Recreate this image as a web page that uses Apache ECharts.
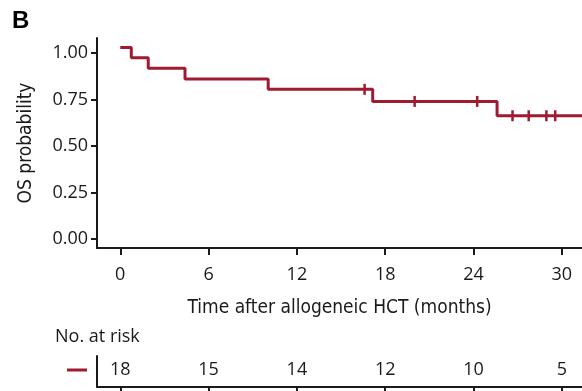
<!DOCTYPE html>
<html>
<head>
<meta charset="utf-8">
<script src="https://cdn.jsdelivr.net/npm/echarts@6/dist/echarts.min.js"></script>
<style>html,body{margin:0;padding:0;background:#fff}#c{width:582px;height:391px}</style>
</head>
<body>
<div id="c"></div>
<script>
// Kaplan-Meier steps (time in months, survival as drawn)
const stepTimes = [0, 0.75, 1.9, 4.4, 10.05, 17.15, 25.6, 31.4];
const stepValues = [1.03, 0.975, 0.918, 0.86, 0.805, 0.740, 0.663, 0.663];
// censor marks
const censorTimes = [16.6, 20.0, 24.25, 26.65, 27.75, 28.95, 29.55];
const censorValues = [0.805, 0.740, 0.740, 0.663, 0.663, 0.663, 0.663];
// axis ticks
const xTicks = [0, 6, 12, 18, 24, 30];
const yTicks = [0, 0.25, 0.5, 0.75, 1];
const yTickLabels = ['0.00', '0.25', '0.50', '0.75', '1.00'];
// number at risk
const riskTimes = [0, 6, 12, 18, 24, 30];
const riskCounts = [18, 15, 14, 12, 10, 5];

const RED = '#9e1b31';
const INK = '#1a1a1a';
const FONT = '"Open Sans", "Noto Sans", sans-serif';
const COND = '"Liberation Sans Narrow", "DejaVu Sans Condensed", sans-serif';
const XMIN = -1.58, XMAX = 31.37;

const chart = echarts.init(document.getElementById('c'), null, {renderer: 'canvas'});
chart.setOption({
  animation: false,
  backgroundColor: '#fff',
  grid: [
    {left: 97, width: 485, top: 38, height: 210},
    {left: 97, width: 485, top: 356, height: 31}
  ],
  xAxis: [
    {
      gridIndex: 0, type: 'value', min: XMIN, max: XMAX,
      axisLine: {show: true, onZero: false, lineStyle: {color: INK, width: 2}},
      axisTick: {show: true, customValues: xTicks, length: 7, lineStyle: {color: INK, width: 2}},
      axisLabel: {customValues: xTicks, margin: 18, fontSize: 18, color: INK, fontFamily: FONT},
      splitLine: {show: false},
      name: 'Time after allogeneic HCT (months)', nameLocation: 'middle', nameGap: 51,
      nameTextStyle: {fontSize: 19, color: INK, fontFamily: COND}
    },
    {
      gridIndex: 1, type: 'value', min: XMIN, max: XMAX,
      axisLine: {show: true, onZero: false, lineStyle: {color: INK, width: 2}},
      axisTick: {show: true, customValues: xTicks, length: 6, lineStyle: {color: INK, width: 2}},
      axisLabel: {show: false},
      splitLine: {show: false}
    }
  ],
  yAxis: [
    {
      gridIndex: 0, type: 'value', min: -0.048, max: 1.081,
      axisLine: {show: true, onZero: false, lineStyle: {color: INK, width: 2}},
      axisTick: {show: true, customValues: yTicks, length: 6, lineStyle: {color: INK, width: 2}},
      axisLabel: {customValues: yTicks, margin: 9, fontSize: 18, color: INK, fontFamily: FONT,
        formatter: v => yTickLabels[yTicks.indexOf(v)] ?? ''},
      splitLine: {show: false},
      name: 'OS probability', nameLocation: 'middle', nameGap: 61,
      nameTextStyle: {fontSize: 19, color: INK, fontFamily: COND}
    },
    {
      gridIndex: 1, type: 'value', min: 0, max: 1,
      axisLine: {show: true, onZero: false, lineStyle: {color: INK, width: 2}},
      axisTick: {show: false}, axisLabel: {show: false}, splitLine: {show: false}
    }
  ],
  series: [
    {
      type: 'line', xAxisIndex: 0, yAxisIndex: 0, step: 'end', symbol: 'none',
      lineStyle: {color: RED, width: 3},
      data: stepTimes.map((t, i) => [t, stepValues[i]])
    },
    {
      type: 'scatter', xAxisIndex: 0, yAxisIndex: 0, symbol: 'rect', symbolSize: [2.5, 11],
      itemStyle: {color: RED, opacity: 1},
      data: censorTimes.map((t, i) => [t, censorValues[i]])
    },
    {
      type: 'scatter', xAxisIndex: 1, yAxisIndex: 1, symbol: 'circle', symbolSize: 1,
      itemStyle: {color: 'rgba(0,0,0,0)', opacity: 1},
      label: {show: true, position: 'inside', fontSize: 18, color: INK, fontFamily: FONT,
        formatter: p => String(p.value[2])},
      data: riskTimes.map((t, i) => [t, 0.55, riskCounts[i]])
    }
  ],
  graphic: [
    {type: 'text', left: 12, top: 9, style: {text: 'B', font: 'bold 24px "Liberation Sans", Arial, sans-serif', fill: '#000'}},
    {type: 'text', left: 55, top: 328, style: {text: 'No. at risk', font: '18px ' + FONT, fill: INK}},
    {type: 'rect', shape: {x: 67, y: 368.5, width: 20, height: 3}, style: {fill: RED}}
  ]
});
</script>
</body>
</html>
